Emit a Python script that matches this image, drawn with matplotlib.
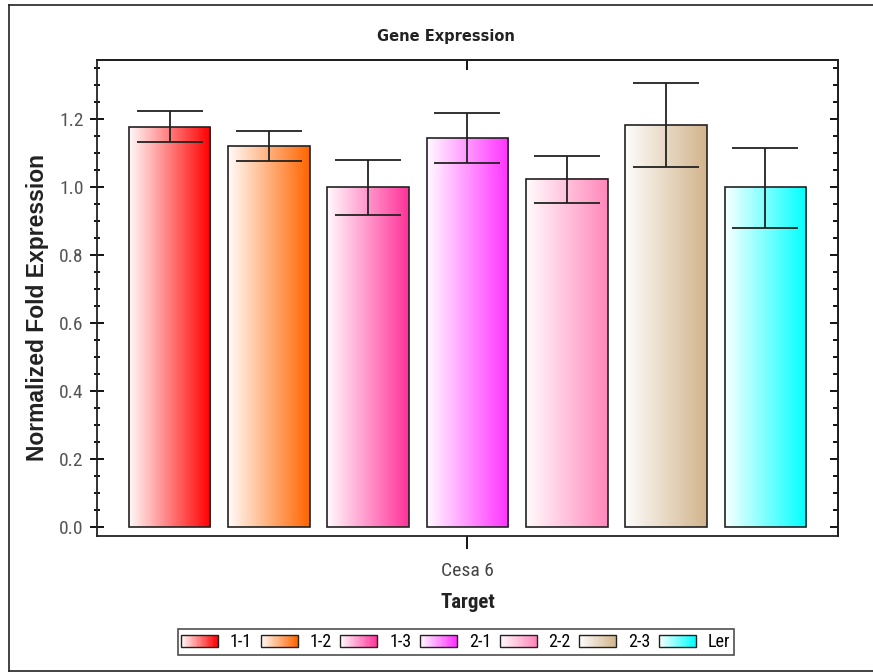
import numpy as np
import matplotlib
matplotlib.use("Agg")
import matplotlib.pyplot as plt
from matplotlib.colors import to_rgb
from matplotlib.patches import Rectangle
from matplotlib.lines import Line2D
from matplotlib.legend_handler import HandlerBase
from matplotlib.ticker import MultipleLocator

samples = ["1-1", "1-2", "1-3", "2-1", "2-2", "2-3", "Ler"]
values = [1.176, 1.12, 1.0, 1.144, 1.024, 1.182, 1.0]
err_low = [0.044, 0.044, 0.082, 0.073, 0.071, 0.123, 0.121]
err_high = [0.048, 0.045, 0.080, 0.074, 0.067, 0.124, 0.115]
colors = ["#ff0000", "#ff6600", "#ff3399", "#ff33ff", "#ff88bb", "#d2b48c", "#00ffff"]
target = "Cesa 6"
yticks = [0.0, 0.2, 0.4, 0.6, 0.8, 1.0, 1.2]

narrow = ["Roboto Condensed", "DejaVu Sans"]
sans = ["Liberation Sans", "DejaVu Sans"]
dark = "#222222"


def gradient(c, n=64):
    c = np.array(to_rgb(c))
    t = np.linspace(0.03, 1.0, n)[:, None]
    return (1 - t) * np.ones(3) + t * c


class GradHandler(HandlerBase):
    def __init__(self, color):
        super().__init__()
        self.color = color

    def create_artists(self, legend, orig, xd, yd, w, h, fs, trans):
        arts = []
        g = gradient(self.color, 30)
        n = len(g)
        for i, c in enumerate(g):
            arts.append(Rectangle((-xd + w * i / n, -yd), w / n + 0.3, h,
                                  facecolor=c, edgecolor="none", transform=trans))
        arts.append(Rectangle((-xd, -yd), w, h, facecolor="none",
                              edgecolor=dark, lw=1.0, transform=trans))
        return arts


fig = plt.figure(figsize=(8.73, 6.72), dpi=100)
ax = fig.add_axes([0.1111, 0.2024, 0.8488, 0.7083])

x = np.arange(len(samples)) - 3
width = 0.82
for xi, v, c in zip(x, values, colors):
    img = gradient(c)[None, :, :]
    ax.imshow(img, extent=(xi - width / 2, xi + width / 2, 0, v),
              aspect="auto", interpolation="bilinear", zorder=1)
ax.bar(x, values, width=width, fill=False, edgecolor=dark, linewidth=1.2, zorder=2)
ax.errorbar(x, values, yerr=[err_low, err_high], fmt="none", ecolor=dark,
            elinewidth=1.3, capsize=24, capthick=1.3, zorder=3)

ax.set_xlim(-3.73, 3.73)
ax.set_ylim(-0.026, 1.374)
ax.set_yticks(yticks)
ax.set_yticklabels(["%.1f" % t for t in yticks])
ax.yaxis.set_minor_locator(MultipleLocator(0.05))
ax.set_xticks([0])
ax.set_xticklabels([target])

ax.tick_params(axis="y", which="major", direction="inout", length=9.5, width=1.3,
               labelsize=14, labelcolor="#555555", pad=5)
ax.tick_params(axis="y", which="minor", direction="inout", length=5, width=1.3)
ax.tick_params(axis="x", which="major", direction="out", length=9, width=1.3,
               labelsize=14, labelcolor="#444444", pad=10)
for lab in ax.get_yticklabels() + ax.get_xticklabels():
    lab.set_family(narrow)
for sp in ax.spines.values():
    sp.set_linewidth(1.3)
    sp.set_color(dark)

# inner ticks on the right and top
right = ax.secondary_yaxis("right")
right.set_yticks(yticks)
right.yaxis.set_minor_locator(MultipleLocator(0.05))
right.tick_params(which="major", direction="in", length=6, width=1.3, labelright=False)
right.tick_params(which="minor", direction="in", length=3.5, width=1.3)
right.spines["right"].set_linewidth(1.3)
top = ax.secondary_xaxis("top")
top.set_xticks([0])
top.tick_params(direction="in", length=7, width=1.3, labeltop=False)
top.spines["top"].set_linewidth(1.3)

fig.text(446 / 873, 1 - 37 / 672, "Gene Expression", fontsize=10.5, fontweight="bold",
         family="DejaVu Sans", color=dark, ha="center", va="center")
ax.set_xlabel("Target", fontsize=15, fontweight="bold", family=narrow,
              color=dark, labelpad=9)
ax.set_ylabel("Normalized Fold Expression", fontsize=16.5, fontweight="bold",
              family=sans, color=dark)
ax.yaxis.set_label_coords(-0.065, 0.481)

handles = [Rectangle((0, 0), 1, 1) for _ in samples]
leg = fig.legend(handles, samples, loc="center", bbox_to_anchor=(0.522, 0.0446),
                 ncol=7, frameon=True, fancybox=False,
                 handler_map={h: GradHandler(c) for h, c in zip(handles, colors)},
                 handlelength=2.05, handleheight=0.66, handletextpad=0.66,
                 columnspacing=0.47, borderpad=0.2, prop={"family": narrow, "size": 13})
leg.get_frame().set_edgecolor(dark)
leg.get_frame().set_linewidth(1.2)

for xs, ys in [((9, 9), (1, 667)), ((9, 873), (667, 667)), ((9, 873), (1, 1))]:
    fig.add_artist(Line2D(np.array(xs) / 873, np.array(ys) / 672,
                          transform=fig.transFigure, color=dark, lw=1.2))

fig.savefig("out.png", dpi=100)
